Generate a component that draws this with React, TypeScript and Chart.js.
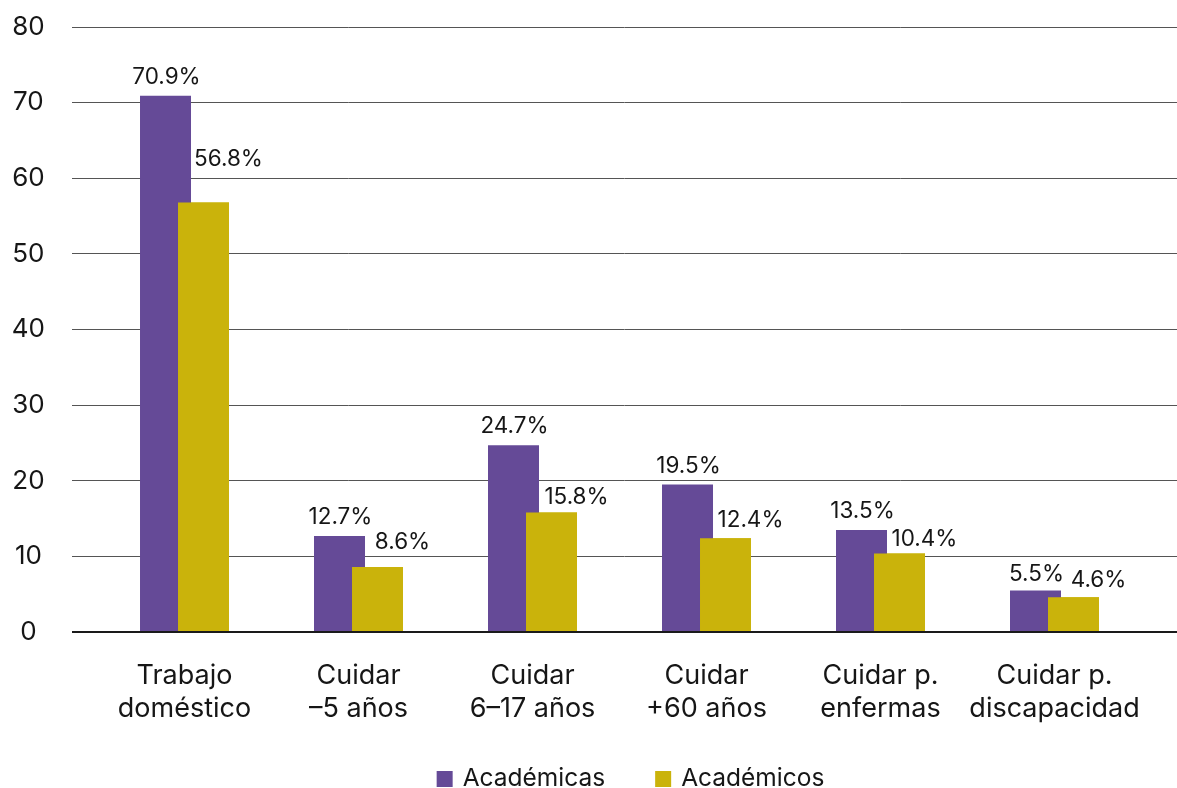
import React, { useEffect, useRef } from 'react';
import { Chart, registerables } from 'chart.js';

Chart.register(...registerables);

const categories: string[][] = [
  ['Trabajo', 'doméstico'],
  ['Cuidar', '–5 años'],
  ['Cuidar', '6–17 años'],
  ['Cuidar', '+60 años'],
  ['Cuidar p.', 'enfermas'],
  ['Cuidar p.', 'discapacidad'],
];
const academicas = [70.9, 12.7, 24.7, 19.5, 13.5, 5.5];
const academicos = [56.8, 8.6, 15.8, 12.4, 10.4, 4.6];
const seriesNames = ['Académicas', 'Académicos'];
const seriesColors = ['#654a97', '#cab30b'];
const yMin = 0;
const yMax = 80;
const yStep = 10;

const FONT = 'Inter, "Noto Sans", sans-serif';
const TEXT = '#161616';

// label styling (pixel nudges, not data)
const labelShiftX = [1, 25];
const labelLift = [
  [12, 12, 12, 12, 12, 10],
  [36, 18, 9, 11, 7, 10],
];

// draw the second series again so it overlaps the first, as in the reference
const secondOnTop = {
  id: 'secondOnTop',
  afterDatasetsDraw(chart: any) {
    const meta = chart.getDatasetMeta(1);
    const ctx = chart.ctx;
    ctx.save();
    meta.data.forEach((el: any) => el.draw(ctx));
    ctx.restore();
  },
};

const valueLabels = {
  id: 'valueLabels',
  afterDatasetsDraw(chart: any) {
    const ctx = chart.ctx;
    ctx.save();
    ctx.font = `22.5px ${FONT}`;
    ctx.fillStyle = TEXT;
    ctx.textAlign = 'center';
    ctx.textBaseline = 'alphabetic';
    chart.data.datasets.forEach((ds: any, di: number) => {
      const meta = chart.getDatasetMeta(di);
      meta.data.forEach((bar: any, i: number) => {
        const v = ds.data[i].y as number;
        ctx.fillText(v.toFixed(1) + '%', bar.x + labelShiftX[di], bar.y - labelLift[di][i]);
      });
    });
    ctx.restore();
  },
};

const customLegend = {
  id: 'customLegend',
  afterDraw(chart: any) {
    const ctx = chart.ctx;
    ctx.save();
    ctx.font = `24.5px ${FONT}`;
    const box = 16;
    const gapText = 10;
    const gapItem = 50;
    const items = chart.data.datasets.map((ds: any) => ({
      text: ds.label,
      color: ds.backgroundColor,
      w: box + gapText + ctx.measureText(ds.label).width,
    }));
    const total = items.reduce((s: number, it: any) => s + it.w, 0) + gapItem * (items.length - 1);
    const cx = (chart.chartArea.left + chart.chartArea.right) / 2 + 6;
    let x = cx - total / 2;
    const yMid = 779;
    ctx.textBaseline = 'middle';
    ctx.textAlign = 'left';
    items.forEach((it: any) => {
      ctx.fillStyle = it.color;
      ctx.fillRect(x, yMid - box / 2, box, box);
      ctx.fillStyle = TEXT;
      ctx.fillText(it.text, x + box + gapText, yMid);
      x += it.w + gapItem;
    });
    ctx.restore();
  },
};

export default function App() {
  const ref = useRef<HTMLCanvasElement | null>(null);

  useEffect(() => {
    if (!ref.current) return;
    const mk = (vals: number[]) => vals.map((v, i) => ({ x: i, y: v }));
    const chart = new Chart(ref.current, {
      type: 'bar',
      data: {
        datasets: [
          {
            label: seriesNames[0],
            data: mk(academicas) as any,
            backgroundColor: seriesColors[0],
            categoryPercentage: 0.4368,
            barPercentage: 1.342,
          },
          {
            label: seriesNames[1],
            data: mk(academicos) as any,
            backgroundColor: seriesColors[1],
            categoryPercentage: 0.4368,
            barPercentage: 1.342,
          },
        ],
      },
      options: {
        responsive: false,
        animation: false,
        layout: { padding: { top: 27, right: 0, left: 0, bottom: 36 } },
        plugins: {
          legend: { display: false },
          tooltip: { enabled: false },
        },
        scales: {
          x: {
            type: 'linear',
            offset: false,
            min: -0.6466,
            max: 5.704,
            grid: { display: false, drawTicks: false, offset: false },
            border: { display: false },
            afterBuildTicks: (scale: any) => {
              scale.ticks = categories.map((_, i) => ({ value: i }));
            },
            ticks: {
              autoSkip: false,
              maxRotation: 0,
              minRotation: 0,
              padding: 27,
              color: TEXT,
              font: { family: FONT, size: 27, lineHeight: 1.22 },
              callback: (v: any) => categories[v] ?? '',
            },
          },
          y: {
            min: yMin,
            max: yMax,
            afterFit: (scale: any) => {
              scale.width = 72;
            },
            grid: {
              drawTicks: true,
              tickLength: 27,
              tickColor: 'rgba(0,0,0,0)',
              color: (c: any) => (c.tick && c.tick.value === 0 ? '#1a1a1a' : '#555555'),
              lineWidth: (c: any) => (c.tick && c.tick.value === 0 ? 2 : 1),
            },
            border: { display: false },
            ticks: {
              stepSize: yStep,
              crossAlign: 'center',
              padding: 0,
              color: TEXT,
              font: { family: FONT, size: 26 },
            },
          },
        },
      },
      plugins: [secondOnTop, valueLabels, customLegend],
    });
    return () => chart.destroy();
  }, []);

  return (
    <div style={{ position: 'fixed', left: 0, top: 0, width: 1177, height: 788, background: '#fff' }}>
      <canvas ref={ref} width={1177} height={788} style={{ display: 'block' }} />
    </div>
  );
}
